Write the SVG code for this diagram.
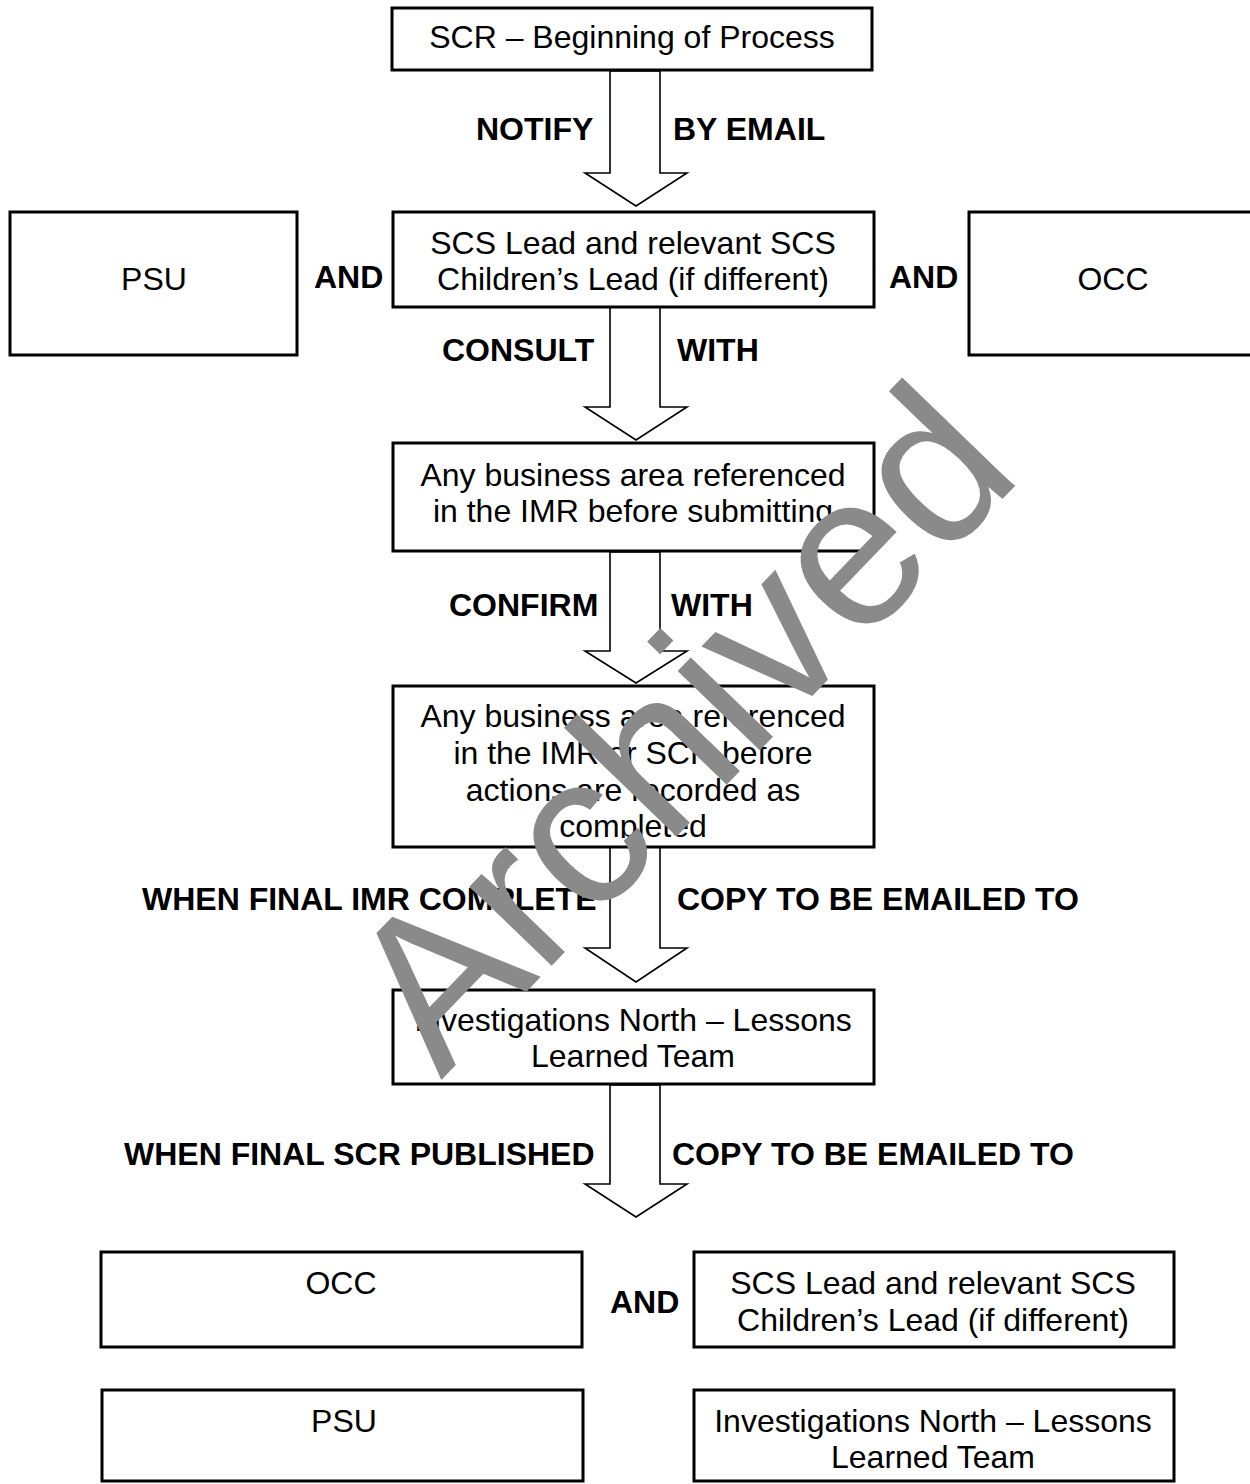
<svg xmlns="http://www.w3.org/2000/svg" width="1250" height="1484" viewBox="0 0 1250 1484">
<style>
  .box { fill: #ffffff; stroke: #000000; stroke-width: 3; }
  .arrow { fill: #ffffff; stroke: #000000; stroke-width: 1.6; stroke-linejoin: miter; }
  .t { font-family: "Liberation Sans", Arial, sans-serif; font-size: 32px; fill: #000000; text-anchor: middle; }
  .b { font-family: "Liberation Sans", Arial, sans-serif; font-size: 32px; font-weight: bold; fill: #000000; }
  .wm { font-family: "Liberation Sans", Arial, sans-serif; font-size: 216px; fill: #8a8a8a; text-anchor: middle; }
</style>
<defs>
  <clipPath id="clip4"><rect x="395" y="688" width="477" height="150"/></clipPath>
</defs>
<rect x="0" y="0" width="1250" height="1484" fill="#ffffff"/>

<g id="connectors">
  <polygon class="arrow" points="610,71 610,173 585,173 636,206 687,173 660,173 660,71"/>
  <polygon class="arrow" points="610,307 610,407 585,407 636,440 687,407 660,407 660,307"/>
  <polygon class="arrow" points="610,552 610,651 585,651 636,683 687,651 660,651 660,552"/>
  <polygon class="arrow" points="610,847 610,948 585,948 636,982 687,948 660,948 660,847"/>
  <polygon class="arrow" points="610,1085 610,1184 585,1184 636,1217 687,1184 660,1184 660,1085"/>
  <text class="b" x="476" y="140">NOTIFY</text>
  <text class="b" x="673" y="140">BY EMAIL</text>
  <text class="b" x="314" y="288">AND</text>
  <text class="b" x="889" y="288">AND</text>
  <text class="b" x="442" y="361">CONSULT</text>
  <text class="b" x="677" y="361">WITH</text>
  <text class="b" x="449" y="616">CONFIRM</text>
  <text class="b" x="671" y="616">WITH</text>
  <text class="b" x="142" y="910">WHEN FINAL IMR COMPLETE</text>
  <text class="b" x="677" y="910">COPY TO BE EMAILED TO</text>
  <text class="b" x="124" y="1165">WHEN FINAL SCR PUBLISHED</text>
  <text class="b" x="672" y="1165">COPY TO BE EMAILED TO</text>
  <text class="b" x="610" y="1313">AND</text>
</g>

<g id="n-start">
  <rect class="box" x="392" y="8" width="480" height="62"/>
  <text class="t" x="632" y="48">SCR – Beginning of Process</text>
</g>
<g id="n-scs-lead">
  <rect class="box" x="393" y="212" width="481" height="95"/>
  <text class="t" x="633" y="254">SCS Lead and relevant SCS</text>
  <text class="t" x="633" y="290">Children’s Lead (if different)</text>
</g>
<g id="n-psu-top">
  <rect class="box" x="10" y="212" width="287" height="143"/>
  <text class="t" x="154" y="290">PSU</text>
</g>
<g id="n-occ-top">
  <rect class="box" x="969" y="212" width="284" height="143"/>
  <text class="t" x="1113" y="290">OCC</text>
</g>
<g id="n-business-1">
  <rect class="box" x="393" y="443" width="481" height="108"/>
  <text class="t" x="633" y="486">Any business area referenced</text>
  <text class="t" x="633" y="522">in the IMR before submitting</text>
</g>
<g id="n-business-2">
  <rect class="box" x="393" y="686" width="481" height="161"/>
  <g clip-path="url(#clip4)">
    <text class="t" x="633" y="727">Any business area referenced</text>
    <text class="t" x="633" y="764">in the IMR or SCR before</text>
    <text class="t" x="633" y="801">actions are recorded as</text>
    <text class="t" x="633" y="837">completed</text>
  </g>
</g>
<g id="n-inv-north">
  <rect class="box" x="393" y="990" width="481" height="94"/>
  <text class="t" x="633" y="1031">Investigations North – Lessons</text>
  <text class="t" x="633" y="1067">Learned Team</text>
</g>
<g id="n-occ-bottom">
  <rect class="box" x="101" y="1252" width="481" height="95"/>
  <text class="t" x="341" y="1294">OCC</text>
</g>
<g id="n-scs-bottom">
  <rect class="box" x="694" y="1252" width="480" height="95"/>
  <text class="t" x="933" y="1294">SCS Lead and relevant SCS</text>
  <text class="t" x="933" y="1331">Children’s Lead (if different)</text>
</g>
<g id="n-psu-bottom">
  <rect class="box" x="102" y="1390" width="481" height="91"/>
  <text class="t" x="344" y="1432">PSU</text>
</g>
<g id="n-inv-bottom">
  <rect class="box" x="694" y="1390" width="480" height="91"/>
  <text class="t" x="933" y="1432">Investigations North – Lessons</text>
  <text class="t" x="933" y="1468">Learned Team</text>
</g>

<text class="wm" x="733" y="778" transform="rotate(-46 733 778)">Archived</text>
</svg>
